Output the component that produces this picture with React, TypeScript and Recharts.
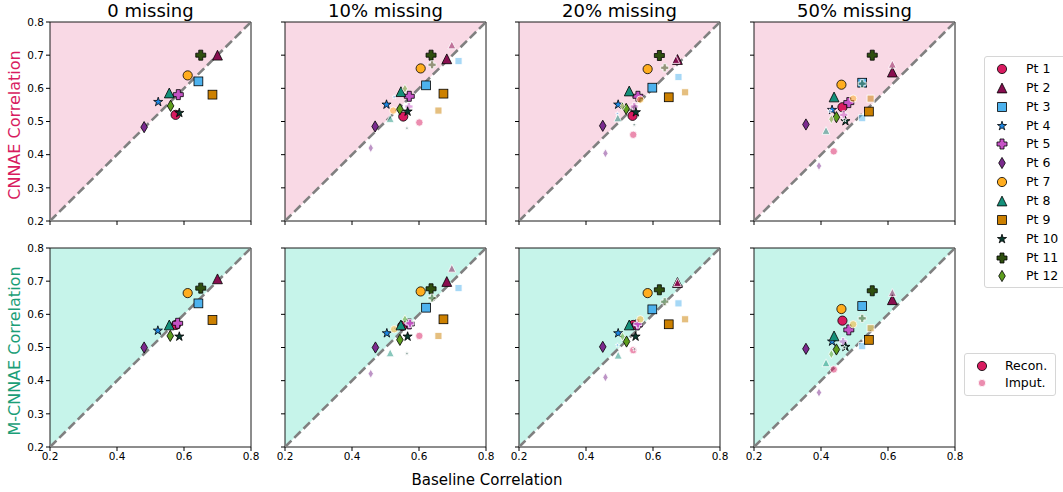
import React from "react";
import {
  ComposedChart,
  XAxis,
  YAxis,
  Area,
  Scatter,
  ReferenceLine,
  ReferenceArea,
} from "recharts";

type Pair = [number, number];

const patients = ["Pt 1", "Pt 2", "Pt 3", "Pt 4", "Pt 5", "Pt 6", "Pt 7", "Pt 8", "Pt 9", "Pt 10", "Pt 11", "Pt 12"];
const ptColors = [
  "#d81b60", "#880e4f", "#4db2ee", "#1e88e5", "#c653c6", "#7b2a8e",
  "#ffad1f", "#14907a", "#cc8000", "#0b3d30", "#2f4f0f", "#5e9e1e",
];
const ptShapes = [
  "circle", "triangle", "square", "star", "plus", "diamond",
  "circle", "triangle", "square", "star", "plus", "diamond",
];
const missingLabels = ["0 missing", "10% missing", "20% missing", "50% missing"];
const axisRange: Pair = [0.2, 0.8];
const xTicks = [0.2, 0.4, 0.6, 0.8];
const yTicks = [0.2, 0.3, 0.4, 0.5, 0.6, 0.7, 0.8];

// [baseline correlation, model correlation] per patient
const cnnae0Recon: Pair[] = [
  [0.575, 0.52], [0.7, 0.7], [0.643, 0.621], [0.523, 0.559], [0.583, 0.581], [0.481, 0.483],
  [0.611, 0.639], [0.556, 0.586], [0.685, 0.581], [0.586, 0.526], [0.65, 0.7], [0.56, 0.547],
];
const cnnae10Recon: Pair[] = [
  [0.553, 0.515], [0.683, 0.689], [0.621, 0.609], [0.503, 0.551], [0.571, 0.576], [0.469, 0.485],
  [0.605, 0.66], [0.546, 0.59], [0.673, 0.584], [0.566, 0.53], [0.636, 0.7], [0.543, 0.537],
];
const cnnae10Imput: Pair[] = [
  [0.601, 0.497], [0.698, 0.731], [0.718, 0.682], [0.526, 0.574], [0.57, 0.545], [0.456, 0.42],
  [0.523, 0.533], [0.514, 0.509], [0.658, 0.533], [0.564, 0.48], [0.639, 0.671], [0.558, 0.599],
];
const cnnae20Recon: Pair[] = [
  [0.539, 0.517], [0.673, 0.687], [0.598, 0.602], [0.496, 0.551], [0.555, 0.576], [0.45, 0.487],
  [0.584, 0.658], [0.529, 0.592], [0.647, 0.573], [0.549, 0.528], [0.619, 0.699], [0.52, 0.538],
];
const cnnae20Imput: Pair[] = [
  [0.541, 0.46], [0.668, 0.687], [0.676, 0.634], [0.494, 0.523], [0.544, 0.545], [0.458, 0.404],
  [0.562, 0.566], [0.495, 0.511], [0.696, 0.588], [0.544, 0.49], [0.635, 0.662], [0.509, 0.546],
];
const cnnae50Recon: Pair[] = [
  [0.464, 0.543], [0.613, 0.649], [0.523, 0.617], [0.433, 0.535], [0.483, 0.557], [0.355, 0.491],
  [0.461, 0.611], [0.439, 0.574], [0.543, 0.53], [0.473, 0.501], [0.553, 0.7], [0.446, 0.513],
];
const cnnae50Imput: Pair[] = [
  [0.438, 0.41], [0.613, 0.673], [0.523, 0.51], [0.426, 0.531], [0.468, 0.52], [0.394, 0.366],
  [0.496, 0.569], [0.415, 0.473], [0.548, 0.569], [0.47, 0.505], [0.523, 0.614], [0.431, 0.507],
];
const mcnnae0Recon: Pair[] = [
  [0.576, 0.568], [0.7, 0.707], [0.643, 0.633], [0.522, 0.551], [0.581, 0.573], [0.481, 0.5],
  [0.611, 0.664], [0.556, 0.568], [0.685, 0.583], [0.586, 0.533], [0.65, 0.679], [0.559, 0.535],
];
const mcnnae10Recon: Pair[] = [
  [0.55, 0.565], [0.683, 0.699], [0.621, 0.62], [0.504, 0.543], [0.571, 0.571], [0.47, 0.5],
  [0.605, 0.669], [0.546, 0.568], [0.673, 0.585], [0.566, 0.533], [0.636, 0.677], [0.543, 0.523],
];
const mcnnae10Imput: Pair[] = [
  [0.601, 0.535], [0.698, 0.739], [0.718, 0.679], [0.528, 0.558], [0.573, 0.573], [0.456, 0.421],
  [0.526, 0.555], [0.514, 0.484], [0.658, 0.535], [0.564, 0.482], [0.639, 0.649], [0.558, 0.585],
];
const mcnnae20Recon: Pair[] = [
  [0.541, 0.568], [0.673, 0.696], [0.598, 0.615], [0.496, 0.543], [0.553, 0.568], [0.45, 0.502],
  [0.584, 0.664], [0.529, 0.568], [0.647, 0.57], [0.548, 0.533], [0.619, 0.674], [0.521, 0.518],
];
const mcnnae20Imput: Pair[] = [
  [0.541, 0.492], [0.673, 0.696], [0.676, 0.633], [0.494, 0.507], [0.555, 0.571], [0.458, 0.41],
  [0.562, 0.585], [0.496, 0.477], [0.696, 0.585], [0.545, 0.495], [0.635, 0.638], [0.509, 0.533],
];
const mcnnae50Recon: Pair[] = [
  [0.464, 0.581], [0.613, 0.644], [0.523, 0.625], [0.433, 0.518], [0.483, 0.553], [0.355, 0.496],
  [0.461, 0.616], [0.439, 0.535], [0.543, 0.523], [0.473, 0.502], [0.553, 0.671], [0.446, 0.494],
];
const mcnnae50Imput: Pair[] = [
  [0.438, 0.434], [0.613, 0.666], [0.523, 0.504], [0.43, 0.525], [0.466, 0.518], [0.394, 0.364],
  [0.496, 0.57], [0.415, 0.454], [0.548, 0.558], [0.47, 0.5], [0.523, 0.588], [0.431, 0.48],
];

const FONT = "'DejaVu Sans', sans-serif";
const CNNAE_COLOR = "#d81b60";
const MCNNAE_COLOR = "#1b9e77";
const PINK = "#f9d9e5";
const TEAL = "#c6f4ea";

const PLOT_W = 201;
const PLOT_H = 199;
const Y_AXIS_W = 40;
const X_AXIS_H = 25;
const RIGHT_PAD = 14;
const colLefts = [50, 285, 519, 754];
const rowTops = [22, 248];

// area above the y = x diagonal
const upperTriangle = [
  { x: axisRange[0], band: [axisRange[0], axisRange[1]] },
  { x: axisRange[1], band: [axisRange[1], axisRange[1]] },
];

function Marker({ cx, cy, kind, color, imput }: any) {
  if (cx == null || cy == null) return null;
  const k = imput ? (kind === "star" ? 0.5 : 0.8) : 1;
  const style = {
    fill: color,
    fillOpacity: imput ? 0.5 : 1,
    stroke: imput ? "#ffffff" : "#000000",
    strokeWidth: 0.8,
  };
  if (kind === "circle") return <circle cx={cx} cy={cy} r={4.6 * k} {...style} />;
  if (kind === "square") {
    const h = 4.4 * k;
    return <rect x={cx - h} y={cy - h} width={2 * h} height={2 * h} {...style} />;
  }
  if (kind === "triangle") {
    const s = 4.9 * k;
    return <polygon points={`${cx},${cy - s} ${cx - s},${cy + s} ${cx + s},${cy + s}`} {...style} />;
  }
  if (kind === "diamond") {
    const h = 5.6 * k;
    const w = 3.3 * k;
    return <polygon points={`${cx},${cy - h} ${cx + w},${cy} ${cx},${cy + h} ${cx - w},${cy}`} {...style} />;
  }
  if (kind === "plus") {
    const a = 5 * k;
    const t = a * 0.4;
    const pts = [
      [-t, -a], [t, -a], [t, -t], [a, -t], [a, t], [t, t],
      [t, a], [-t, a], [-t, t], [-a, t], [-a, -t], [-t, -t],
    ];
    return <polygon points={pts.map((p) => `${cx + p[0]},${cy + p[1]}`).join(" ")} {...style} />;
  }
  // star
  const R = 4.8 * k;
  const r = R * 0.382;
  const pts: string[] = [];
  for (let i = 0; i < 10; i++) {
    const ang = -Math.PI / 2 + (i * Math.PI) / 5;
    const rad = i % 2 === 0 ? R : r;
    pts.push(`${cx + rad * Math.cos(ang)},${cy + rad * Math.sin(ang)}`);
  }
  return <polygon points={pts.join(" ")} {...style} />;
}

const fmt = (v: number) => v.toFixed(1);
const blank = () => "";
const tickStyle = { fontSize: 10.5, fill: "#000", fontFamily: FONT };

function Panel({ recon, imput, shade, left, top, showX, showY }: any) {
  const series: any[] = [];
  patients.forEach((name, i) => {
    series.push(
      <Scatter
        key={`r${i}`}
        name={name}
        data={[{ x: recon[i][0], y: recon[i][1] }]}
        isAnimationActive={false}
        shape={(p: any) => <Marker cx={p.cx} cy={p.cy} kind={ptShapes[i]} color={ptColors[i]} />}
      />
    );
    if (imput) {
      series.push(
        <Scatter
          key={`i${i}`}
          name={`${name} imput`}
          data={[{ x: imput[i][0], y: imput[i][1] }]}
          isAnimationActive={false}
          shape={(p: any) => <Marker cx={p.cx} cy={p.cy} kind={ptShapes[i]} color={ptColors[i]} imput />}
        />
      );
    }
  });
  return (
    <div style={{ position: "absolute", left: left - Y_AXIS_W, top: top - 5 }}>
      <ComposedChart
        width={Y_AXIS_W + PLOT_W + RIGHT_PAD}
        height={5 + PLOT_H + X_AXIS_H}
        data={upperTriangle}
        margin={{ top: 5, right: RIGHT_PAD, bottom: 0, left: 0 }}
      >
        <XAxis
          type="number"
          dataKey="x"
          domain={axisRange}
          ticks={xTicks}
          interval={0}
          height={X_AXIS_H}
          axisLine={false}
          tickLine={{ stroke: "#000" }}
          tickSize={4}
          tickMargin={2}
          tick={tickStyle}
          tickFormatter={showX ? fmt : blank}
        />
        <YAxis
          type="number"
          dataKey="y"
          domain={axisRange}
          ticks={yTicks}
          interval={0}
          width={Y_AXIS_W}
          axisLine={false}
          tickLine={{ stroke: "#000" }}
          tickSize={4}
          tickMargin={2}
          tick={tickStyle}
          tickFormatter={showY ? fmt : blank}
        />
        <Area
          dataKey="band"
          type="linear"
          fill={shade}
          fillOpacity={1}
          stroke="none"
          dot={false}
          activeDot={false}
          isAnimationActive={false}
        />
        <ReferenceLine
          segment={[
            { x: axisRange[0], y: axisRange[0] },
            { x: axisRange[1], y: axisRange[1] },
          ]}
          stroke="#808080"
          strokeWidth={2.6}
          strokeDasharray="9 4"
        />
        <ReferenceArea
          x1={axisRange[0]}
          x2={axisRange[1]}
          y1={axisRange[0]}
          y2={axisRange[1]}
          fill="none"
          stroke="#1a1a1a"
          strokeWidth={1}
        />
        {series}
      </ComposedChart>
    </div>
  );
}

const rows = [
  { label: "CNNAE Correlation", color: CNNAE_COLOR, shade: PINK, recon: [cnnae0Recon, cnnae10Recon, cnnae20Recon, cnnae50Recon], imput: [null, cnnae10Imput, cnnae20Imput, cnnae50Imput] },
  { label: "M-CNNAE Correlation", color: MCNNAE_COLOR, shade: TEAL, recon: [mcnnae0Recon, mcnnae10Recon, mcnnae20Recon, mcnnae50Recon], imput: [null, mcnnae10Imput, mcnnae20Imput, mcnnae50Imput] },
];

export default function App() {
  return (
    <div style={{ position: "absolute", left: 0, top: 0, width: 1063, height: 492, background: "#fff", fontFamily: FONT, overflow: "hidden" }}>
      {missingLabels.map((t, c) => (
        <div key={t} style={{ position: "absolute", left: colLefts[c], top: 0, width: PLOT_W, textAlign: "center", fontSize: 18, lineHeight: "22px" }}>
          {t}
        </div>
      ))}
      {rows.map((row, r) =>
        row.recon.map((rec, c) => (
          <Panel
            key={`${r}-${c}`}
            recon={rec}
            imput={row.imput[c]}
            shade={row.shade}
            left={colLefts[c]}
            top={rowTops[r]}
            showX={r === 1}
            showY={c === 0}
          />
        ))
      )}
      {rows.map((row, r) => (
        <div
          key={row.label}
          style={{
            position: "absolute",
            left: 15,
            top: rowTops[r] + PLOT_H / 2 + 3,
            transform: "translate(-50%, -50%) rotate(-90deg)",
            whiteSpace: "nowrap",
            fontSize: 16,
            lineHeight: "16px",
            color: row.color,
          }}
        >
          {row.label}
        </div>
      ))}
      <div style={{ position: "absolute", left: 387, top: 470, width: 200, textAlign: "center", fontSize: 15, lineHeight: "20px" }}>
        Baseline Correlation
      </div>
      <div style={{ position: "absolute", left: 984, top: 56, width: 100, height: 230, border: "1px solid #d6d6d6", borderRadius: 3, background: "rgba(255,255,255,0.8)" }}>
        {patients.map((name, i) => (
          <div key={name} style={{ position: "absolute", left: 0, top: 3 + i * 18.85, height: 18, display: "flex", alignItems: "center" }}>
            <svg width={36} height={18}>
              <Marker cx={17} cy={9} kind={ptShapes[i]} color={ptColors[i]} />
            </svg>
            <span style={{ marginLeft: 5, fontSize: 12.5, lineHeight: "18px" }}>{name}</span>
          </div>
        ))}
      </div>
      <div style={{ position: "absolute", left: 964, top: 353, width: 90, height: 41, border: "1px solid #d6d6d6", borderRadius: 3, background: "rgba(255,255,255,0.8)" }}>
        {["Recon.", "Imput."].map((name, i) => (
          <div key={name} style={{ position: "absolute", left: 0, top: 3 + i * 16.6, height: 18, display: "flex", alignItems: "center" }}>
            <svg width={36} height={18}>
              <Marker cx={17} cy={9} kind="circle" color={ptColors[0]} imput={i === 1} />
            </svg>
            <span style={{ marginLeft: 4, fontSize: 12.5, lineHeight: "18px" }}>{name}</span>
          </div>
        ))}
      </div>
    </div>
  );
}
